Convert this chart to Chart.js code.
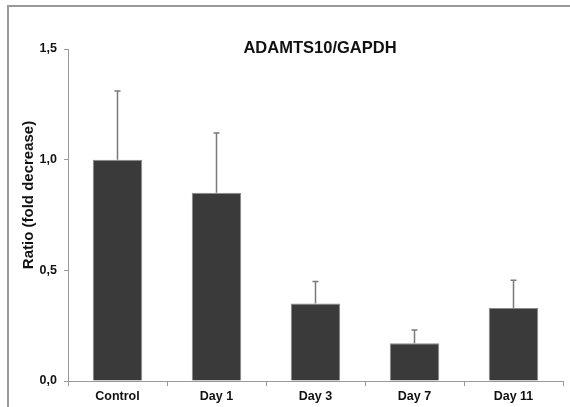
<!DOCTYPE html>
<html>
<head>
<meta charset="utf-8">
<script src="https://cdn.jsdelivr.net/npm/chart.js@4.4.1/dist/chart.umd.min.js"></script>
<style>
  html, body { margin: 0; padding: 0; background: #fff; }
  #wrap { position: relative; width: 570px; height: 407px; overflow: hidden; }
  #frame { position: absolute; left: 7px; top: 5px; width: 600px; height: 450px;
           border-left: 2px solid #9a9a9a; border-top: 2px solid #9a9a9a; }
  #c { position: absolute; left: 0; top: 0; }
</style>
</head>
<body>
<div id="wrap">
  <div id="frame"></div>
  <canvas id="c" width="570" height="407"></canvas>
</div>
<script>
// --- data ---
const groups = ["Control", "Day 1", "Day 3", "Day 7", "Day 11"];
const ratios = [1.0, 0.85, 0.35, 0.17, 0.33];
const errors = [0.31, 0.27, 0.10, 0.06, 0.125];
const yTicks = [0, 0.5, 1.0, 1.5];
const chartTitle = "ADAMTS10/GAPDH";
const yTitle = "Ratio (fold decrease)";

const font = "'Liberation Sans', Arial, sans-serif";

// upper error bars only
const errorBars = {
    id: "errorBars",
    afterDatasetsDraw(chart) {
        const ctx = chart.ctx;
        const y = chart.scales.y;
        const meta = chart.getDatasetMeta(0);
        ctx.save();
        ctx.strokeStyle = "#7a7a7a";
        ctx.lineWidth = 1.5;
        meta.data.forEach((bar, i) => {
            const top = y.getPixelForValue(ratios[i] + errors[i]);
            ctx.beginPath();
            ctx.moveTo(bar.x, bar.y);
            ctx.lineTo(bar.x, top);
            ctx.moveTo(bar.x - 3, top);
            ctx.lineTo(bar.x + 3, top);
            ctx.stroke();
        });
        ctx.restore();
    }
};

// title and axis title sit where the original put them
const labelsPlugin = {
    id: "labelsPlugin",
    afterDraw(chart) {
        const ctx = chart.ctx;
        ctx.save();
        ctx.fillStyle = "#111";
        ctx.font = "bold 16.5px " + font;
        ctx.textAlign = "center";
        ctx.textBaseline = "alphabetic";
        ctx.fillText(chartTitle, 320, 53);

        ctx.translate(29, 195);
        ctx.rotate(-Math.PI / 2);
        ctx.font = "bold 15px " + font;
        ctx.textBaseline = "middle";
        ctx.fillText(yTitle, 0, 0);
        ctx.restore();
    }
};

new Chart(document.getElementById("c").getContext("2d"), {
    type: "bar",
    data: {
        labels: groups,
        datasets: [{
            data: ratios,
            backgroundColor: "#3a3a3a",
            borderColor: "#8a8a8a",
            borderWidth: 1,
            barPercentage: 0.5,
            categoryPercentage: 1
        }]
    },
    options: {
        responsive: false,
        animation: false,
        layout: { padding: { top: 49, right: 7, bottom: 0, left: 0 } },
        plugins: {
            legend: { display: false },
            title: { display: false },
            tooltip: { enabled: false }
        },
        scales: {
            x: {
                grid: { drawOnChartArea: false, color: "#999", tickLength: 5, offset: true },
                border: { color: "#999", width: 1 },
                ticks: { color: "#111", font: { family: font, size: 12.5, weight: "bold" }, padding: 3 },
                afterFit(scale) { scale.height = 26; }
            },
            y: {
                min: 0,
                max: 1.5,
                afterBuildTicks(scale) { scale.ticks = yTicks.map(v => ({ value: v })); },
                grid: { drawOnChartArea: false, color: "#999", tickLength: 4 },
                border: { color: "#999", width: 1 },
                ticks: {
                    color: "#111",
                    font: { family: font, size: 12.5, weight: "bold" },
                    padding: 7,
                    callback: v => v.toFixed(1).replace(".", ",")
                },
                afterFit(scale) { scale.width = 68; }
            }
        }
    },
    plugins: [errorBars, labelsPlugin]
});
</script>
</body>
</html>
